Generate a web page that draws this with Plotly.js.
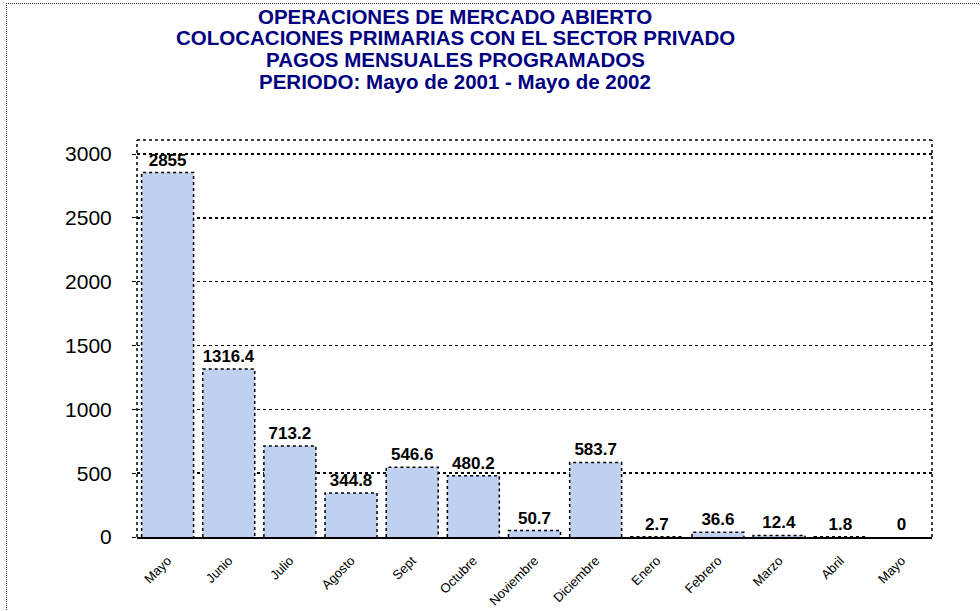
<!DOCTYPE html>
<html>
<head>
<meta charset="utf-8">
<script src="https://cdn.plot.ly/plotly-3.0.1.min.js"></script>
<style>
  html, body { margin: 0; padding: 0; background: #fff; overflow: hidden; }
  #wrap { position: relative; width: 980px; height: 611px; }
  #chart { position: absolute; left: 0; top: 0; width: 980px; height: 611px; }
  #frame { position: absolute; left: 6px; top: 3px; width: 1000px; height: 700px;
           border-left: 1px dotted #333; border-top: 1px dotted #333; pointer-events: none; }
</style>
</head>
<body>
<div id="wrap">
  <div id="chart"></div>
  <div id="frame"></div>
</div>
<script>
const months = ["Mayo", "Junio", "Julio", "Agosto", "Sept", "Octubre", "Noviembre",
                "Diciembre", "Enero", "Febrero", "Marzo", "Abril", "Mayo"];
const values = [2855, 1316.4, 713.2, 344.8, 546.6, 480.2, 50.7, 583.7, 2.7, 36.6, 12.4, 1.8, 0];
const valueLabels = ["2855", "1316.4", "713.2", "344.8", "546.6", "480.2", "50.7",
                     "583.7", "2.7", "36.6", "12.4", "1.8", "0"];
const titleLines = [
  "OPERACIONES DE MERCADO ABIERTO",
  "COLOCACIONES PRIMARIAS CON EL SECTOR PRIVADO",
  "PAGOS MENSUALES PROGRAMADOS",
  "PERIODO: Mayo de 2001 - Mayo de 2002"
];

const idx = values.map((v, i) => i);
const halfW = 0.425;

// dotted outlines built from the data
const ox = [], oy = [];
values.forEach((v, i) => {
  if (v > 0) {
    ox.push(i - halfW, i - halfW, i + halfW, i + halfW, null);
    oy.push(0, v, v, 0, null);
  }
});

const bars = {
  type: "bar",
  x: idx,
  y: values,
  text: valueLabels,
  textposition: "outside",
  cliponaxis: false,
  textfont: { family: "Liberation Sans, Arial, sans-serif", size: 17, color: "#000" },
  texttemplate: "<b>%{text}</b>",
  marker: { color: "#BFD0F0", line: { width: 0 } },
  width: 2 * halfW,
  hoverinfo: "none"
};

const outline = {
  type: "scatter",
  mode: "lines",
  x: ox,
  y: oy,
  line: { color: "#000", width: 1.5, dash: "dot" },
  hoverinfo: "none",
  showlegend: false
};

const lineY = [1.31, 1.257, 1.203, 1.148];
const annotations = titleLines.map((t, k) => ({
  text: "<b>" + t + "</b>",
  xref: "paper", yref: "paper",
  x: 0.40, y: lineY[k],
  xanchor: "center", yanchor: "middle",
  showarrow: false,
  font: { family: "Liberation Sans, Arial, sans-serif", size: 20.5, color: "#000080" }
}));

const dotLine = { color: "#000", width: 1.5, dash: "dot" };
const shapes = [
  { type: "line", xref: "paper", yref: "paper", x0: 0, x1: 0, y0: 0, y1: 1, line: dotLine },
  { type: "line", xref: "paper", yref: "paper", x0: 0, x1: 1, y0: 1, y1: 1, line: dotLine },
  { type: "line", xref: "paper", yref: "paper", x0: 1, x1: 1, y0: 0, y1: 1, line: dotLine }
];

const layout = {
  width: 980,
  height: 611,
  margin: { l: 137, r: 48, t: 140, b: 74 },
  paper_bgcolor: "rgba(0,0,0,0)",
  plot_bgcolor: "#fff",
  showlegend: false,
  font: { family: "Liberation Sans, Arial, sans-serif", color: "#000" },
  xaxis: {
    range: [-0.5, 12.5],
    tickmode: "array",
    tickvals: idx,
    ticktext: months,
    tickangle: -45,
    ticks: "",
    showgrid: false,
    zeroline: false,
    showline: true,
    linecolor: "#000",
    linewidth: 2,
    ticklabelstandoff: 9,
    tickfont: { family: "Liberation Sans Narrow, Arial Narrow, Liberation Sans, sans-serif", size: 13, color: "#000" }
  },
  yaxis: {
    range: [0, 3110],
    tickmode: "linear",
    tick0: 0,
    dtick: 500,
    ticks: "outside",
    ticklen: 4,
    tickcolor: "#000",
    showgrid: true,
    gridcolor: "#000",
    gridwidth: 1.5,
    griddash: "dot",
    zeroline: false,
    showline: false,
    ticklabelstandoff: 16,
    tickfont: { family: "Liberation Sans, Arial, sans-serif", size: 21, color: "#000" }
  },
  annotations: annotations,
  shapes: shapes
};

Plotly.newPlot("chart", [bars, outline], layout, { displayModeBar: false, staticPlot: true });
</script>
</body>
</html>
